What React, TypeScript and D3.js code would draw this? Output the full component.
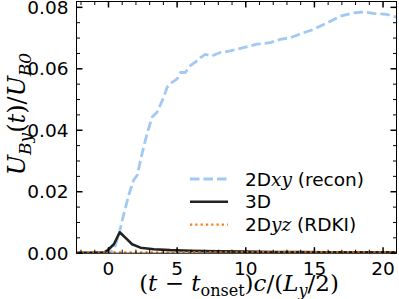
import { useEffect, useRef } from "react"
import * as d3 from "d3"

// 2Dxy (recon) curve
const reconX = [-2.33, -1.5, -0.5, 0.0, 0.3, 0.5, 0.8, 1.1, 1.48, 1.84, 2.09, 2.45, 2.81, 3.18, 3.54, 4.02, 4.27, 4.63, 5.0, 5.24, 5.6, 5.96, 6.45, 6.69, 7.05, 7.54, 8.15, 8.87, 9.84, 10.81, 11.78, 12.51, 13.24, 14.2, 14.93, 15.9, 16.87, 17.84, 18.57, 19.3, 20.27, 21.0]
const reconY = [0.0003, 0.0003, 0.0003, 0.0003, 0.0008, 0.0025, 0.0068, 0.0125, 0.019, 0.0239, 0.0253, 0.0325, 0.0389, 0.0443, 0.0459, 0.0507, 0.054, 0.0556, 0.0567, 0.0588, 0.0588, 0.061, 0.0626, 0.0636, 0.0647, 0.0642, 0.0653, 0.0658, 0.0669, 0.068, 0.0685, 0.0696, 0.0701, 0.0717, 0.0728, 0.0749, 0.0771, 0.0782, 0.0785, 0.078, 0.0777, 0.0768]

// 3D curve
const fullX = [-2.33, -1.0, -0.3, 0.0, 0.39, 0.82, 1.36, 1.72, 2.33, 3.3, 4.5, 6, 8, 10, 12, 14, 16, 18, 20, 21]
const fullY = [0.0001, 0.0001, 0.0003, 0.0012, 0.0029, 0.0068, 0.0045, 0.0029, 0.0018, 0.0013, 0.001, 0.0008, 0.0006, 0.0005, 0.0004, 0.0004, 0.0003, 0.0003, 0.0003, 0.0003]

// 2Dyz (RDKI) curve
const rdkiX = [-2.33, 0, 5, 10, 15, 21]
const rdkiY = [0.0003, 0.0003, 0.0003, 0.0003, 0.0003, 0.0003]

const xMajor = [0, 5, 10, 15, 20]
const yMajor = [0, 0.02, 0.04, 0.06, 0.08]

export default function App() {
  const svgRef = useRef<SVGSVGElement>(null)

  useEffect(() => {
    if (!svgRef.current) return
    const svg = d3.select(svgRef.current)
    svg.selectAll("*").remove()

    const left = 76.5, right = 396.5, top = 1.5, bottom = 253.2
    const x = d3.scaleLinear().domain([-2.33, 20.98]).range([left, right])
    const y = d3.scaleLinear().domain([0, 0.0819]).range([bottom, top])

    const sans = "DejaVu Sans, sans-serif"
    const serif = "DejaVu Serif, serif"

    svg.append("defs").append("clipPath").attr("id", "plot-clip")
      .append("rect").attr("x", left).attr("y", top).attr("width", right - left).attr("height", bottom - top)

    const plot = svg.append("g").attr("clip-path", "url(#plot-clip)")
    const line = d3.line<[number, number]>().x((d) => x(d[0])).y((d) => y(d[1]))

    const series = [
      { xs: reconX, ys: reconY, color: "#a1c9f4", width: 2.8, dash: "9.5,4" },
      { xs: fullX, ys: fullY, color: "#222222", width: 2.6, dash: null },
      { xs: rdkiX, ys: rdkiY, color: "#ff7f0e", width: 2.2, dash: "2.2,3.1" },
    ]
    series.forEach((s) => {
      plot.append("path")
        .datum(s.xs.map((v, i) => [v, s.ys[i]] as [number, number]))
        .attr("fill", "none")
        .attr("stroke", s.color)
        .attr("stroke-width", s.width)
        .attr("stroke-dasharray", s.dash)
        .attr("stroke-linejoin", "round")
        .attr("d", line)
    })

    // frame
    svg.append("rect").attr("x", left).attr("y", top).attr("width", right - left).attr("height", bottom - top)
      .attr("fill", "none").attr("stroke", "#000").attr("stroke-width", 1)

    // ticks, pointing inward on all sides
    const ticks = svg.append("g").attr("stroke", "#000")
    const xMinor = d3.range(-2, 21, 1).filter((v) => v % 5 !== 0)
    const yMinor = d3.range(0.005, 0.081, 0.005).filter((v) => Math.abs(v / 0.02 - Math.round(v / 0.02)) > 0.01)
    const addX = (vals: number[], len: number, w: number) => vals.forEach((v) => {
      ticks.append("line").attr("x1", x(v)).attr("x2", x(v)).attr("y1", bottom).attr("y2", bottom - len).attr("stroke-width", w)
      ticks.append("line").attr("x1", x(v)).attr("x2", x(v)).attr("y1", top).attr("y2", top + len).attr("stroke-width", w)
    })
    const addY = (vals: number[], len: number, w: number) => vals.forEach((v) => {
      ticks.append("line").attr("y1", y(v)).attr("y2", y(v)).attr("x1", left).attr("x2", left + len).attr("stroke-width", w)
      ticks.append("line").attr("y1", y(v)).attr("y2", y(v)).attr("x1", right).attr("x2", right - len).attr("stroke-width", w)
    })
    addX(xMajor, 6, 1.5)
    addX(xMinor, 3.5, 1)
    addY(yMajor, 6, 1.5)
    addY(yMinor, 3.5, 1)

    // tick labels
    svg.append("g").selectAll("text").data(xMajor).enter().append("text")
      .attr("x", (d) => x(d)).attr("y", bottom + 22)
      .attr("text-anchor", "middle").style("font-family", sans).style("font-size", "18.5px")
      .text((d) => String(d))
    svg.append("g").selectAll("text").data(yMajor).enter().append("text")
      .attr("x", left - 8).attr("y", (d) => y(d)).attr("dy", "0.36em")
      .attr("text-anchor", "end").style("font-family", sans).style("font-size", "18.5px")
      .text((d) => d.toFixed(2))

    // x label: (t - t_onset)c/(L_y/2)
    const xl = svg.append("text").attr("x", 239).attr("y", 291)
      .attr("text-anchor", "middle").style("font-family", serif).style("font-size", "23px")
    xl.append("tspan").text("(")
    xl.append("tspan").style("font-style", "italic").text("t")
    xl.append("tspan").text(" \u2212 ")
    xl.append("tspan").style("font-style", "italic").text("t")
    xl.append("tspan").attr("dy", 5).style("font-size", "16px").text("onset")
    xl.append("tspan").attr("dy", -5).text(")")
    xl.append("tspan").style("font-style", "italic").text("c")
    xl.append("tspan").text("/(")
    xl.append("tspan").style("font-style", "italic").text("L")
    xl.append("tspan").attr("dy", 5).style("font-size", "16px").style("font-style", "italic").text("y")
    xl.append("tspan").attr("dy", -5).text("/2)")

    // y label: U_By(t)/U_B0
    const yl = svg.append("text").attr("transform", "translate(25, 114) rotate(-90)")
      .attr("text-anchor", "middle").style("font-family", serif).style("font-size", "24px")
    yl.append("tspan").style("font-style", "italic").text("U")
    yl.append("tspan").attr("dy", 6).style("font-size", "17px").style("font-style", "italic").text("By")
    yl.append("tspan").attr("dy", -6).text("(")
    yl.append("tspan").style("font-style", "italic").text("t")
    yl.append("tspan").text(")/")
    yl.append("tspan").style("font-style", "italic").text("U")
    yl.append("tspan").attr("dy", 6).style("font-size", "17px").style("font-style", "italic").text("B0")

    // legend
    const legendRows = [
      { color: "#a1c9f4", width: 2.8, dash: "9.5,4", pre: "2D", math: "xy", post: " (recon)" },
      { color: "#222222", width: 2.6, dash: null, pre: "3D", math: "", post: "" },
      { color: "#ff7f0e", width: 2.2, dash: "2.2,3.1", pre: "2D", math: "yz", post: " (RDKI)" },
    ]
    const legend = svg.append("g").attr("transform", "translate(190, 179)")
    legendRows.forEach((r, i) => {
      const row = legend.append("g").attr("transform", `translate(0, ${i * 22.8})`)
      row.append("line").attr("x1", 0).attr("x2", 38).attr("y1", 0).attr("y2", 0)
        .attr("stroke", r.color).attr("stroke-width", r.width).attr("stroke-dasharray", r.dash)
      const t = row.append("text").attr("x", 55).attr("y", 0).attr("dy", "0.36em")
        .style("font-family", sans).style("font-size", "18.5px")
      t.append("tspan").text(r.pre)
      if (r.math) t.append("tspan").style("font-family", serif).style("font-style", "italic").text(r.math)
      if (r.post) t.append("tspan").text(r.post)
    })
  }, [])

  return (
    <svg ref={svgRef} width={399} height={299} style={{ position: "absolute", left: 0, top: 0, background: "#fff" }} />
  )
}
